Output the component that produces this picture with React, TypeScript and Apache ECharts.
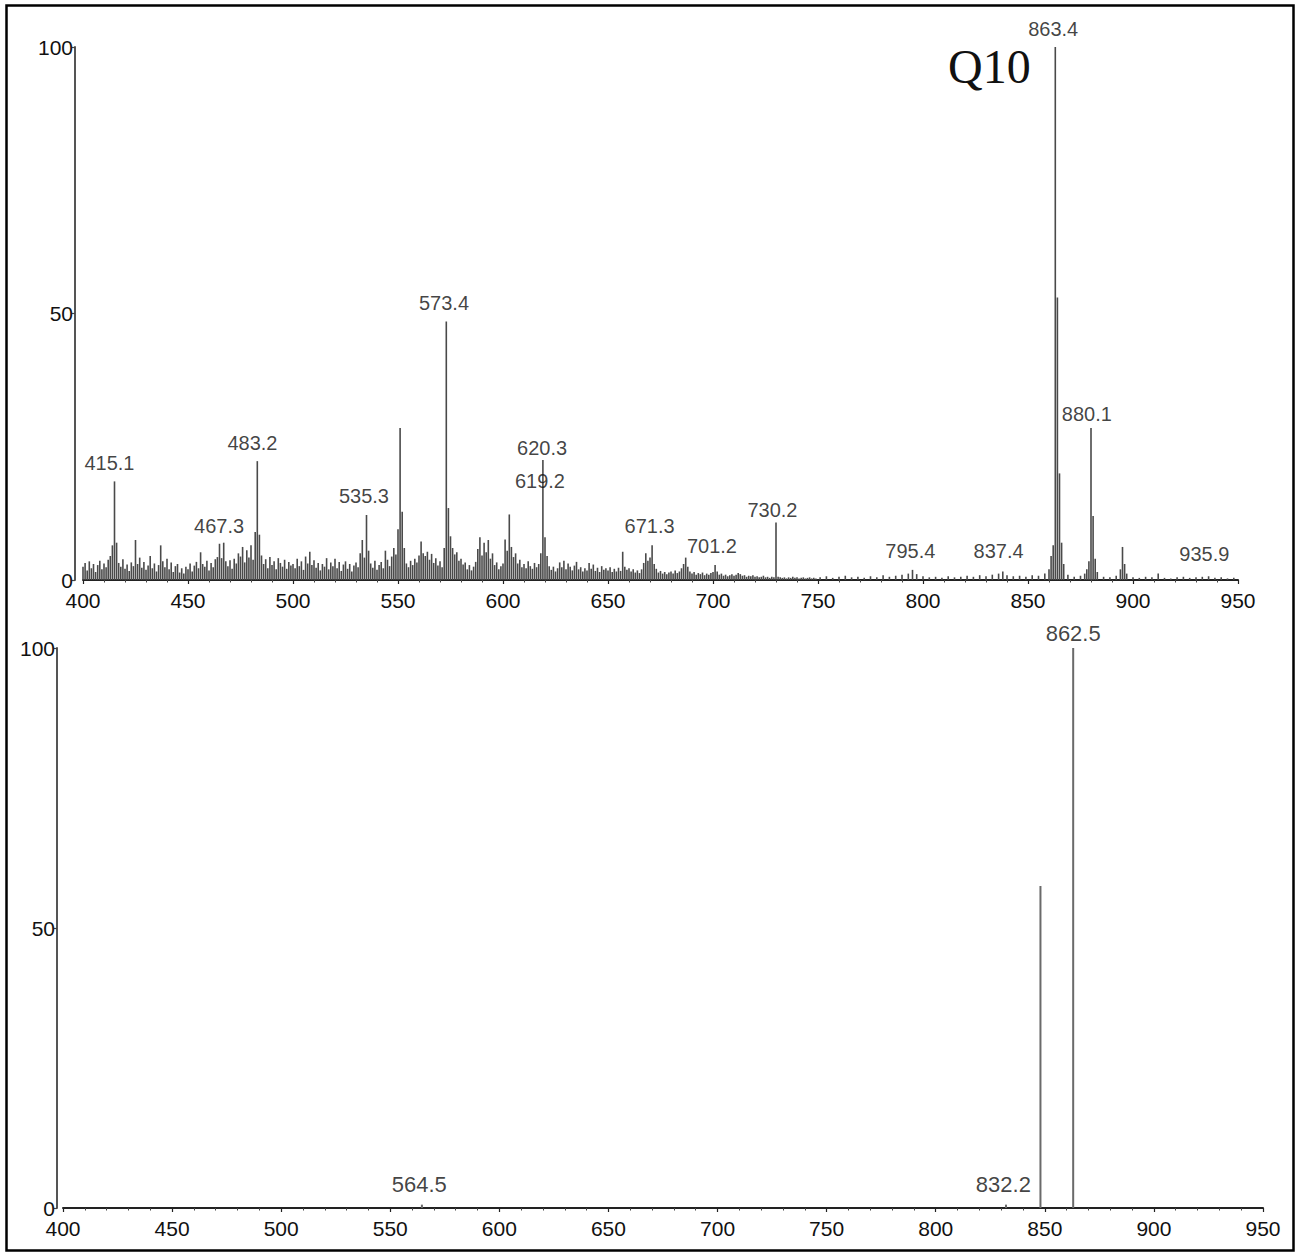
import React, { useEffect, useRef } from "react";
import * as echarts from "echarts";

// ---------- Top spectrum (Q10), relative intensity (%) ----------
// one value per m/z unit, starting at the segment's first m/z
const seg400 = [2.5, 3.2, 1.8, 3.5, 2.2, 3.0, 1.5, 2.8, 3.6, 2.0, 3.1, 2.4, 3.8, 4.5, 6.5, 18.5, 7.0, 3.2, 2.5, 3.9, 2.1, 2.9, 1.7, 3.3, 2.6, 7.5, 3.0, 4.2, 2.3, 3.4, 1.9, 2.7, 4.5, 2.2, 3.1, 1.6, 2.8, 6.5, 3.5, 2.4, 4.0, 2.0, 3.3, 1.5, 2.6, 3.0, 1.4, 2.2, 1.2, 2.5];
const seg450 = [2.0, 3.1, 1.6, 2.7, 3.4, 2.2, 5.2, 3.0, 2.5, 3.6, 1.8, 3.2, 2.4, 3.9, 4.3, 6.8, 4.1, 7.0, 3.5, 2.6, 3.7, 2.1, 4.0, 3.1, 5.0, 4.4, 6.2, 3.3, 5.6, 4.2, 6.5, 3.8, 9.0, 22.3, 8.5, 4.6, 3.0, 3.9, 2.2, 4.3, 2.8, 3.5, 2.0, 4.1, 3.2, 2.5, 3.8, 2.1, 3.4, 2.7];
const seg500 = [3.0, 2.2, 4.0, 2.6, 3.5, 1.9, 4.4, 3.1, 5.3, 2.8, 3.7, 2.3, 3.2, 1.8, 3.0, 2.5, 4.1, 2.0, 3.3, 2.6, 4.0, 2.2, 3.4, 1.7, 2.9, 3.5, 2.1, 3.0, 1.6, 2.7, 3.3, 2.4, 5.0, 7.5, 4.2, 12.2, 5.5, 3.1, 2.3, 3.6, 1.9, 2.8, 3.4, 2.2, 5.5, 3.8, 2.6, 4.4, 6.0, 4.8];
const seg550 = [9.5, 28.5, 12.8, 6.0, 3.1, 2.4, 3.6, 2.8, 4.0, 3.3, 4.6, 7.2, 5.0, 4.5, 5.3, 3.8, 4.9, 3.2, 4.1, 2.7, 3.5, 2.4, 6.0, 48.5, 13.5, 8.2, 6.0, 4.8, 5.2, 3.6, 4.0, 2.9, 3.3, 2.0, 2.8, 1.8, 2.5, 3.4, 5.8, 8.0, 4.6, 7.0, 5.2, 7.5, 4.0, 5.0, 2.8, 3.3, 2.0, 2.6];
const seg600 = [3.1, 7.6, 5.5, 12.3, 6.2, 4.3, 5.0, 3.1, 3.8, 2.4, 3.0, 2.2, 3.5, 2.6, 2.1, 3.2, 2.4, 3.0, 5.0, 22.5, 8.0, 4.5, 2.6, 1.9, 2.5, 1.6, 2.2, 3.3, 2.4, 3.6, 2.0, 3.1, 2.5, 1.8, 2.7, 3.4, 2.0, 2.4, 1.6, 2.2, 1.8, 3.2, 2.1, 2.9, 1.7, 2.3, 1.5, 2.6, 1.9, 2.2];
const seg650 = [1.8, 2.4, 1.5, 2.1, 1.6, 2.3, 1.7, 5.3, 2.5, 1.9, 2.2, 1.6, 2.0, 1.4, 1.8, 1.3, 2.0, 3.2, 5.0, 3.6, 4.2, 6.5, 3.0, 2.1, 1.4, 1.7, 1.2, 1.5, 1.1, 1.4, 1.6, 1.2, 1.8, 1.3, 1.6, 2.2, 3.0, 4.2, 2.5, 1.6, 1.2, 1.5, 1.0, 1.3, 1.1, 1.4, 0.9, 1.2, 1.0, 1.3];
const seg700 = [1.5, 2.8, 1.6, 1.0, 1.2, 0.8, 1.0, 0.7, 0.9, 1.1, 0.8, 1.0, 1.3, 1.1, 0.8, 0.9, 0.6, 0.8, 0.7, 0.9, 0.6, 0.7, 0.5, 0.6, 0.8, 0.5, 0.6, 0.4, 0.6, 0.5, 10.8, 0.6, 0.5, 0.4, 0.5, 0.3, 0.5, 0.4, 0.6, 0.4, 0.5, 0.3, 0.4, 0.5, 0.3, 0.4, 0.5, 0.3, 0.4, 0.3];
const segStarts = [400, 450, 500, 550, 600, 650, 700];
const segValues = [seg400, seg450, seg500, seg550, seg600, seg650, seg700];

// m/z 750-950 (sparser listing)
const tailMz = [751, 754, 757, 760, 763, 766, 769, 772, 775, 778, 781, 784, 787, 790, 793, 795, 797, 800, 803, 806, 809, 812, 815, 818, 821, 824, 827, 830, 833, 836, 838, 840, 843, 846, 849, 852, 855, 858, 860, 861, 862, 863, 864, 865, 866, 867, 869, 872, 875, 877, 878, 879, 880, 881, 882, 883, 886, 889, 892, 894, 895, 896, 897, 900, 903, 906, 909, 912, 915, 918, 921, 924, 927, 930, 933, 936, 939, 942, 945, 948];
const tailInt = [0.5, 0.7, 0.4, 0.6, 0.8, 0.5, 0.6, 0.4, 0.7, 0.5, 0.9, 0.6, 0.8, 1.0, 1.2, 1.9, 1.1, 0.7, 0.5, 0.6, 0.4, 0.7, 0.5, 0.6, 0.8, 0.6, 0.9, 0.7, 1.0, 1.2, 1.6, 0.9, 0.7, 0.8, 0.6, 0.9, 0.8, 1.2, 2.0, 4.5, 6.5, 100, 53, 20, 7, 3, 1.0, 0.6, 0.8, 1.2, 2.0, 3.5, 28.5, 12, 4, 1.5, 0.6, 0.5, 0.8, 2.0, 6.2, 3.0, 1.2, 0.5, 0.4, 0.6, 0.5, 1.2, 0.4, 0.3, 0.5, 0.6, 0.4, 0.5, 0.6, 0.7, 0.4, 0.5, 0.3, 0.4];

// peak annotations (text, anchor m/z, anchor intensity)
const topLabelText = ["415.1", "467.3", "483.2", "535.3", "573.4", "620.3", "619.2", "671.3", "701.2", "730.2", "795.4", "837.4", "863.4", "880.1", "935.9"];
const topLabelMz = [412.6, 464.8, 480.7, 533.8, 571.9, 618.6, 617.6, 669.8, 699.5, 728.3, 794, 836, 862, 878, 934];
const topLabelY = [20.0, 8.3, 23.8, 13.8, 50.1, 22.9, 16.7, 8.2, 4.5, 11.2, 3.5, 3.5, 101.5, 29.2, 3.0];

// ---------- Bottom spectrum ----------
const bottomMz = [564.5, 832.2, 848, 863];
const bottomInt = [0.6, 0.6, 57.5, 100];
const bottomLabelText = ["564.5", "832.2", "862.5"];
const bottomLabelMz = [563.3, 831, 863];
const bottomLabelY = [2.3, 2.3, 100.6];

const yTicks = [0, 50, 100];

const FONT = "Liberation Sans, Arial, sans-serif";
const TEXT = "#111111";
const STICK = "#4a4a4a";

function buildTop(): [number, number][] {
  const out: [number, number][] = [];
  segValues.forEach((arr, s) => {
    arr.forEach((v, i) => out.push([segStarts[s] + i, v]));
  });
  tailMz.forEach((m, i) => out.push([m, tailInt[i]]));
  return out;
}

function xAxisCfg(gridIndex: number) {
  return {
    type: "value",
    gridIndex,
    min: 400,
    max: 950,
    interval: 50,
    offset: 6,
    axisLine: { show: true, lineStyle: { color: "#222", width: 2 } },
    axisTick: { show: true, length: 4, lineStyle: { color: "#222", width: 1.2 } },
    minorTick: { show: true, splitNumber: 5, length: 2.5, lineStyle: { color: "#444", width: 1 } },
    splitLine: { show: false },
    axisLabel: { show: true, fontSize: 21, fontFamily: FONT, color: TEXT, margin: 4 },
  };
}

function yAxisCfg(gridIndex: number, offset: number) {
  return {
    type: "value",
    gridIndex,
    min: 0,
    max: 100,
    interval: 50,
    offset,
    axisLine: { show: true, lineStyle: { color: "#555", width: 2 } },
    axisTick: { show: true, length: 3, lineStyle: { color: "#444", width: 1.2 } },
    splitLine: { show: false },
    axisLabel: {
      show: true,
      fontSize: 21,
      fontFamily: FONT,
      color: TEXT,
      margin: 2,
      formatter: (v: number) => (yTicks.includes(v) ? String(v) : ""),
    },
  };
}

function labelSeries(xi: number, texts: string[], mz: number[], ys: number[], fs: number) {
  return {
    type: "scatter",
    xAxisIndex: xi,
    yAxisIndex: xi,
    symbolSize: 0,
    silent: true,
    clip: false,
    z: 5,
    data: texts.map((t, i) => ({ name: t, value: [mz[i], ys[i]] })),
    label: {
      show: true,
      position: "top",
      distance: 0,
      formatter: "{b}",
      fontSize: fs,
      lineHeight: fs,
      fontFamily: FONT,
      color: TEXT,
    },
  };
}

export default function App() {
  const ref = useRef<HTMLDivElement>(null);

  useEffect(() => {
    document.body.style.margin = "0";
    if (!ref.current) return;
    const chart = echarts.init(ref.current, null, { renderer: "svg" });
    const topData = buildTop();
    const bottomData = bottomMz.map((m, i) => [m, bottomInt[i]]);

    chart.setOption({
      animation: false,
      backgroundColor: "#ffffff",
      grid: [
        { left: 83, right: 67, top: 47, height: 533 },
        { left: 63, right: 42, top: 648, height: 560 },
      ],
      xAxis: [xAxisCfg(0), xAxisCfg(1)],
      yAxis: [yAxisCfg(0, 8), yAxisCfg(1, 6)],
      graphic: [
        {
          type: "rect",
          shape: { x: 6.5, y: 5.5, width: 1287, height: 1245 },
          style: { fill: "none", stroke: "#000", lineWidth: 2.5 },
          silent: true,
        },
        {
          type: "text",
          left: 948,
          top: 42,
          style: {
            text: "Q10",
            fontSize: 48,
            fontFamily: "Liberation Serif, Times New Roman, serif",
            fill: "#111",
          },
          silent: true,
        },
      ],
      series: [
        {
          type: "bar",
          xAxisIndex: 0,
          yAxisIndex: 0,
          barWidth: 1.6,
          silent: true,
          itemStyle: { color: STICK },
          data: topData,
        },
        {
          type: "bar",
          xAxisIndex: 1,
          yAxisIndex: 1,
          barWidth: 2,
          silent: true,
          itemStyle: { color: "#6a6a6a" },
          data: bottomData,
        },
        labelSeries(0, topLabelText, topLabelMz, topLabelY, 20),
        labelSeries(1, bottomLabelText, bottomLabelMz, bottomLabelY, 22),
      ],
    });

    return () => chart.dispose();
  }, []);

  return <div ref={ref} style={{ width: 1305, height: 1254 }} />;
}
